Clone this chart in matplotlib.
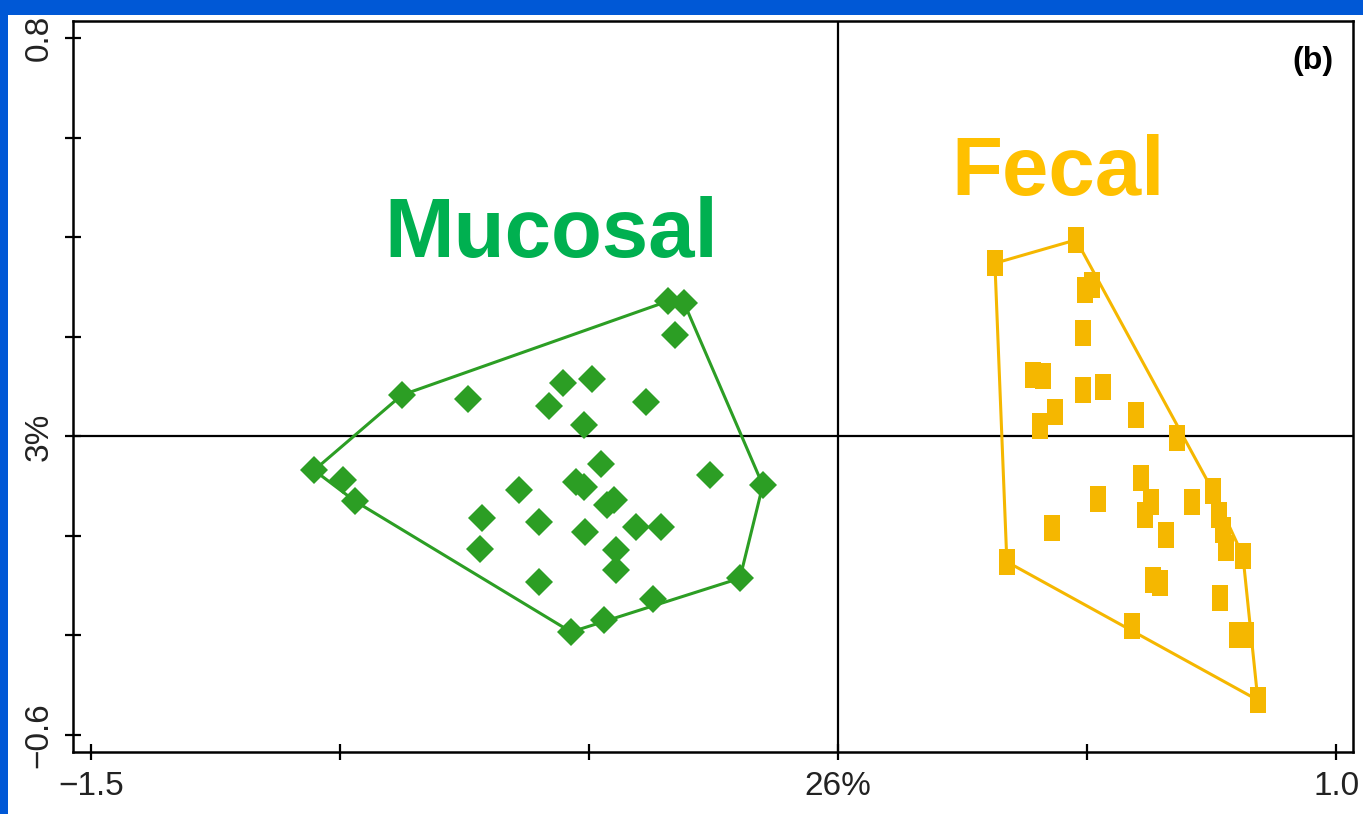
import matplotlib
matplotlib.use('Agg')
import matplotlib.pyplot as plt
from matplotlib.patches import Rectangle

# 数据：坐标
mucosal_x = [-0.341, -0.309, -0.327, -0.876, -0.743, -0.552, -0.494, -0.580, -0.386, -0.510,
             -1.052, -0.994, -0.970, -0.476, -0.257, -0.151, -0.641, -0.526, -0.510, -0.464,
             -0.450, -0.715, -0.600, -0.508, -0.406, -0.355, -0.719, -0.446, -0.446, -0.600,
             -0.197, -0.371, -0.470, -0.536]
mucosal_y = [0.272, 0.268, 0.204, 0.083, 0.075, 0.107, 0.115, 0.061, 0.069, 0.023,
             -0.068, -0.088, -0.130, -0.055, -0.078, -0.098, -0.108, -0.092, -0.102, -0.138,
             -0.128, -0.164, -0.172, -0.192, -0.182, -0.182, -0.226, -0.228, -0.268, -0.293,
             -0.285, -0.327, -0.369, -0.393]

fecal_x = [0.315, 0.478, 0.496, 0.510, 0.492, 0.392, 0.412, 0.436, 0.406, 0.492,
           0.532, 0.598, 0.681, 0.608, 0.522, 0.629, 0.616, 0.430, 0.659, 0.711,
           0.753, 0.765, 0.773, 0.779, 0.813, 0.339, 0.633, 0.647, 0.767, 0.801,
           0.819, 0.590, 0.843]
fecal_y = [0.348, 0.395, 0.294, 0.304, 0.208, 0.123, 0.121, 0.049, 0.021, 0.093,
           0.099, 0.043, -0.003, -0.084, -0.126, -0.132, -0.158, -0.184, -0.198, -0.132,
           -0.110, -0.158, -0.188, -0.224, -0.240, -0.252, -0.289, -0.295, -0.325, -0.399,
           -0.399, -0.381, -0.530]

x_ticks = [-1.5, -1.0, -0.5, 0.0, 0.5, 1.0]
x_ticklabels = ['\u22121.5', '', '', '26%', '', '1.0']
y_ticks = [-0.6, -0.4, -0.2, 0.0, 0.2, 0.4, 0.6, 0.8]
y_ticklabels = ['\u22120.6', '', '', '3%', '', '', '', '0.8']


# 凸包（monotone chain），返回闭合的顶点序列
def convex_hull(xs, ys):
    pts = sorted(set(zip(xs, ys)))

    def cross(o, a, b):
        return (a[0] - o[0]) * (b[1] - o[1]) - (a[1] - o[1]) * (b[0] - o[0])

    lower = []
    for p in pts:
        while len(lower) >= 2 and cross(lower[-2], lower[-1], p) <= 0:
            lower.pop()
        lower.append(p)
    upper = []
    for p in reversed(pts):
        while len(upper) >= 2 and cross(upper[-2], upper[-1], p) <= 0:
            upper.pop()
        upper.append(p)
    hull = lower[:-1] + upper[:-1]
    hull.append(hull[0])
    return [p[0] for p in hull], [p[1] for p in hull]


plt.rcParams['font.family'] = ['Liberation Sans', 'DejaVu Sans']

W, H = 1363, 814
fig = plt.figure(figsize=(W / 100, H / 100), dpi=100, facecolor='#0058D6')
# 白色底板，只留上边和左边的蓝框
fig.patches.append(Rectangle((8 / W, 0), 1, 1 - 15 / H, transform=fig.transFigure,
                             facecolor='white', edgecolor='none', zorder=-5))

ax = fig.add_axes([73.3 / W, 1 - 752.3 / H, (1353 - 73.3) / W, (752.3 - 20.7) / H])
ax.set_zorder(1)
ax.set_xlim(-1.5355, 1.034)
ax.set_ylim(-0.6348, 0.8354)

ax.axhline(0, color='black', lw=1.6, zorder=1)
ax.axvline(0, color='black', lw=1.6, zorder=1)

green = '#2C9E24'
gold = '#F5B700'

hx, hy = convex_hull(mucosal_x, mucosal_y)
ax.plot(hx, hy, color=green, lw=2.2, zorder=2)
ax.plot(mucosal_x, mucosal_y, linestyle='none', marker='D', markersize=14,
        color=green, markeredgewidth=0, zorder=3)

rect = [(-0.31, -0.5), (0.31, -0.5), (0.31, 0.5), (-0.31, 0.5), (-0.31, -0.5)]
hx, hy = convex_hull(fecal_x, fecal_y)
ax.plot(hx, hy, color=gold, lw=2.2, zorder=2)
ax.plot(fecal_x, fecal_y, linestyle='none', marker=rect, markersize=19,
        color=gold, markeredgewidth=0, zorder=3)

ax.set_xticks(x_ticks)
ax.set_xticklabels(x_ticklabels)
ax.set_yticks(y_ticks)
ax.set_yticklabels(y_ticklabels, rotation=90, va='center')
ax.tick_params(direction='inout', length=11, width=1.6, labelsize=24,
               labelcolor='#222222', pad=8)
for s in ax.spines.values():
    s.set_linewidth(1.8)

# 组名标注（像素位置换算成 figure 坐标）
fig.text(551 / W, 1 - 257 / H, 'Mucosal', fontsize=60, fontweight='bold',
         color='#00B050', ha='center', va='baseline', zorder=5)
fig.text(1058 / W, 1 - 195 / H, 'Fecal', fontsize=60, fontweight='bold',
         color='#FFC000', ha='center', va='baseline', zorder=5)
ax.text(0.985, 0.965, '(b)', transform=ax.transAxes, fontsize=23, fontweight='bold',
        ha='right', va='top')

fig.savefig('out.png', dpi=100, facecolor=fig.get_facecolor())
